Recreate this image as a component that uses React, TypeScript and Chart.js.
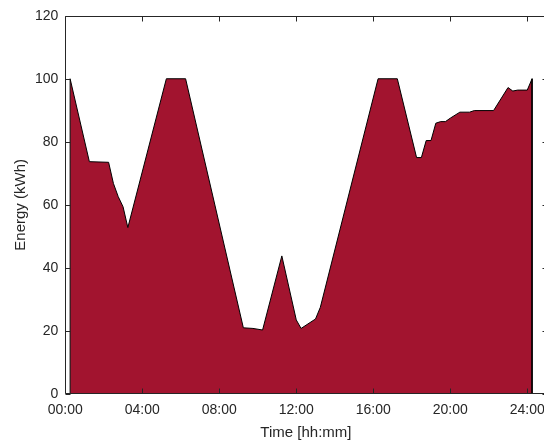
import React, { useEffect, useRef } from "react";
import { Chart, registerables } from "chart.js";

Chart.register(...registerables);

// Time in hours, energy in kWh
const hours = [0.25, 0.25, 1.25, 2.25, 2.5, 2.75, 3.0, 3.25, 5.25, 6.25, 9.25, 9.75, 10.25, 11.25, 12.0, 12.25, 13.0, 13.25, 16.25, 17.25, 18.25, 18.5, 18.75, 19.0, 19.25, 19.5, 19.75, 20.0, 20.5, 21.0, 21.25, 22.25, 23.0, 23.25, 23.5, 24.0, 24.25, 24.25];
const energy = [0, 100, 73.7, 73.5, 66.8, 62.6, 59.4, 52.8, 100, 100, 21.0, 20.8, 20.3, 43.8, 23.5, 20.8, 23.8, 27.5, 100, 100, 75.0, 75.0, 80.4, 80.4, 85.9, 86.4, 86.4, 87.5, 89.4, 89.4, 89.9, 89.9, 97.2, 96.1, 96.4, 96.4, 100, 0];
const xTickValues = [0, 4, 8, 12, 16, 20, 24];
const xTickLabels = ["00:00", "04:00", "08:00", "12:00", "16:00", "20:00", "24:00"];
const xTitle = "Time [hh:mm]";
const yTitle = "Energy (kWh)";

const AXIS = "#262626";
const FONT = "'Liberation Sans', Arial, sans-serif";

const boxPlugin = {
  id: "matlabBox",
  afterDraw(chart: any) {
    const { ctx, chartArea: a, scales } = chart;
    const L = Math.round(a.left) + 0.5;
    const R = Math.round(a.right) + 0.5;
    const T = Math.round(a.top) + 0.5;
    const B = Math.round(a.bottom) - 0.5;
    ctx.save();
    ctx.strokeStyle = AXIS;
    ctx.lineWidth = 1;
    ctx.beginPath();
    ctx.rect(L, T, R - L, B - T);
    const tl = 5;
    scales.x.ticks.forEach((t: any) => {
      const px = Math.round(scales.x.getPixelForValue(t.value)) + 0.5;
      ctx.moveTo(px, B);
      ctx.lineTo(px, B - tl);
      ctx.moveTo(px, T);
      ctx.lineTo(px, T + tl);
    });
    scales.y.ticks.forEach((t: any) => {
      const py = Math.round(scales.y.getPixelForValue(t.value)) + 0.5;
      ctx.moveTo(L, py);
      ctx.lineTo(L + tl, py);
      ctx.moveTo(R, py);
      ctx.lineTo(R - tl, py);
    });
    ctx.stroke();
    ctx.restore();
  },
};

export default function App() {
  const ref = useRef<HTMLCanvasElement | null>(null);

  useEffect(() => {
    if (!ref.current) return;
    const points = hours.map((h, i) => ({ x: h, y: energy[i] }));
    const chart = new Chart(ref.current, {
      type: "line",
      data: {
        datasets: [
          {
            data: points,
            backgroundColor: "#A2142F",
            borderColor: "#000000",
            borderWidth: 1,
            fill: "origin",
            pointRadius: 0,
            tension: 0,
          },
        ],
      },
      options: {
        responsive: false,
        animation: false,
        layout: { padding: { top: 15.7, right: 13.5, left: 0, bottom: 0 } },
        plugins: { legend: { display: false }, tooltip: { enabled: false } },
        scales: {
          x: {
            type: "linear",
            min: 0,
            max: 25,
            afterFit(scale: any) {
              scale.height = 48;
            },
            afterBuildTicks(scale: any) {
              scale.ticks = xTickValues.map((v) => ({ value: v }));
            },
            grid: { display: false, drawTicks: false },
            border: { display: false },
            ticks: {
              color: AXIS,
              font: { family: FONT, size: 14 },
              padding: 8,
              maxRotation: 0,
              autoSkip: false,
              callback: (v: any) => {
                const i = xTickValues.indexOf(Number(v));
                return i >= 0 ? xTickLabels[i] : "";
              },
            },
            title: {
              display: true,
              text: xTitle,
              color: AXIS,
              font: { family: FONT, size: 15 },
              padding: { top: 0, bottom: 0 },
            },
          },
          y: {
            min: 0,
            max: 120,
            afterFit(scale: any) {
              scale.width = 65.3;
            },
            grid: { display: false, drawTicks: false },
            border: { display: false },
            ticks: {
              stepSize: 20,
              color: AXIS,
              font: { family: FONT, size: 14 },
              padding: 7,
            },
            title: {
              display: true,
              text: yTitle,
              color: AXIS,
              font: { family: FONT, size: 15 },
              padding: { top: 12, bottom: 0 },
            },
          },
        },
      },
      plugins: [boxPlugin],
    });
    return () => chart.destroy();
  }, []);

  return (
    <div style={{ position: "fixed", left: 0, top: 0, width: 560, height: 442, background: "#fff" }}>
      <canvas ref={ref} width={560} height={442} style={{ display: "block" }} />
    </div>
  );
}
